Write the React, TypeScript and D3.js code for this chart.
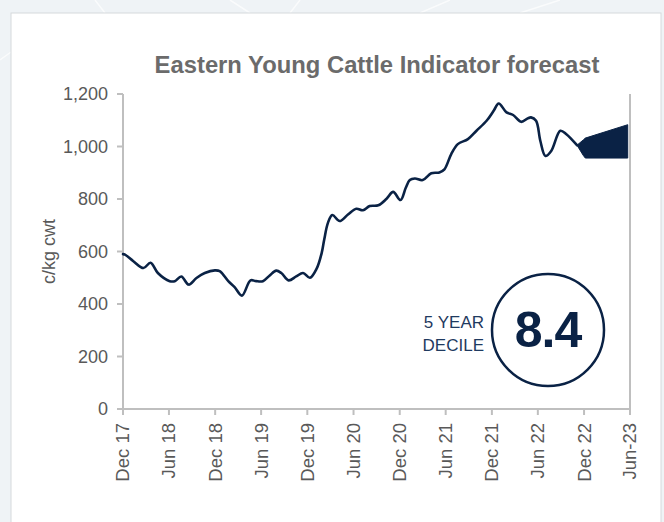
import React from "react";
import * as d3 from "d3";

const lineDates = [
  "2017-12-01","2017-12-09","2018-01-11","2018-02-20","2018-03-20","2018-04-18","2018-06-04","2018-06-24",
  "2018-07-20","2018-08-18","2018-09-18","2018-10-21","2018-11-30","2018-12-19","2019-01-22","2019-02-16",
  "2019-03-17","2019-04-20","2019-05-12","2019-06-08","2019-07-04","2019-07-31","2019-08-20","2019-09-18",
  "2019-10-18","2019-11-14","2019-12-11","2020-01-07","2020-01-27","2020-02-06","2020-02-21","2020-03-09",
  "2020-04-07","2020-05-10","2020-06-12","2020-07-08","2020-08-04","2020-09-07","2020-10-10","2020-11-05",
  "2020-12-04","2020-12-25","2021-01-10","2021-01-30","2021-03-02","2021-04-05","2021-05-07","2021-05-27",
  "2021-06-23","2021-07-19","2021-08-28","2021-10-01","2021-11-10","2021-12-08","2021-12-28","2022-01-28",
  "2022-02-23","2022-03-27","2022-04-22","2022-05-05","2022-05-25","2022-06-11","2022-07-01","2022-07-24",
  "2022-08-29","2022-09-22","2022-11-03"
];
const lineValues = [
  590,588,563,537,557,518,487,487,
  505,474,499,518,528,525,487,464,
  432,490,487,487,508,527,518,490,
  505,518,500,535,595,646,710,739,
  716,741,763,757,773,776,801,827,
  796,843,872,878,872,898,901,913,
  971,1009,1028,1060,1098,1136,1164,1130,
  1120,1094,1107,1111,1098,1021,964,983,
  1060,1047,1005
];

const forecastDates = ["2022-11-03","2022-11-28","2022-12-06","2023-05-23"];
const forecastHigh = [1005, 1025, 1032, 1083];
const forecastLow = [1005, 966, 956, 956];

const xTickDates = ["2017-12-01","2018-06-01","2018-12-01","2019-06-01","2019-12-01","2020-06-01",
  "2020-12-01","2021-06-01","2021-12-01","2022-06-01","2022-12-01","2023-06-01"];
const xTickLabels = ["Dec 17","Jun 18","Dec 18","Jun 19","Dec 19","Jun 20","Dec 20","Jun 21","Dec 21","Jun 22","Dec 22","Jun-23"];
const yTicks = [0, 200, 400, 600, 800, 1000, 1200];

const titleText = "Eastern Young Cattle Indicator forecast";
const yTitle = "c/kg cwt";
const decileLabel1 = "5 YEAR";
const decileLabel2 = "DECILE";
const decileValue = "8.4";

const W = 664, H = 522;
const left = 123, right = 630, top = 94, bottom = 409;
const NAVY = "#0a2245";
const GREY_TEXT = "#595959";
const AXIS = "#bfbfbf";
const FONT = "Arial, 'Liberation Sans', sans-serif";

export default function App() {
  const parse = d3.utcParse("%Y-%m-%d");
  const x = d3.scaleUtc()
    .domain([parse("2017-12-01")!, parse("2023-06-01")!])
    .range([left, right]);
  const y = d3.scaleLinear().domain([0, 1200]).range([bottom, top]);

  const pts = lineDates.map((d, i) => [x(parse(d)!), y(lineValues[i])] as [number, number]);
  const linePath = d3.line().curve(d3.curveCatmullRom.alpha(0.5))(pts) || "";

  const fc = forecastDates.map((d, i) => ({ t: parse(d)!, hi: forecastHigh[i], lo: forecastLow[i] }));
  const areaPath = d3.area<any>()
    .x((d) => x(d.t))
    .y0((d) => y(d.lo))
    .y1((d) => y(d.hi))
    .curve(d3.curveLinear)(fc) || "";

  return (
    <div style={{ position: "fixed", left: 0, top: 0, width: W, height: H }}>
      <svg width={W} height={H} style={{ display: "block" }}>
        <rect x={0} y={0} width={W} height={H} fill="#eff3f6" />
        <g stroke="#ffffff" strokeWidth={1.5} opacity={0.7} fill="none">
          <line x1={95} y1={0} x2={105} y2={13} />
          <line x1={230} y1={0} x2={250} y2={13} />
          <line x1={300} y1={0} x2={290} y2={13} />
          <line x1={420} y1={13} x2={450} y2={0} />
          <line x1={520} y1={13} x2={560} y2={0} />
          <line x1={0} y1={60} x2={11} y2={52} />
        </g>
        <rect x={11} y={13} width={650} height={530} fill="#ffffff" stroke="#d6d9dc" strokeWidth={1} />

        <text x={377} y={73} textAnchor="middle" fontFamily={FONT} fontWeight="bold" fontSize={23.8} fill="#6b6b6b">
          {titleText}
        </text>

        {/* y axis */}
        <line x1={left} y1={top} x2={left} y2={bottom} stroke={AXIS} strokeWidth={2} />
        <line x1={right} y1={top} x2={right} y2={bottom} stroke={AXIS} strokeWidth={2} />
        {yTicks.map((t) => (
          <g key={t}>
            <line x1={left - 6} x2={left} y1={y(t)} y2={y(t)} stroke={AXIS} strokeWidth={2} />
            <text x={108} y={y(t)} dy="0.35em" textAnchor="end" fontFamily={FONT} fontSize={18} fill={GREY_TEXT}>
              {d3.format(",")(t)}
            </text>
          </g>
        ))}
        <text transform={`translate(55,${(top + bottom) / 2}) rotate(-90)`} textAnchor="middle"
          fontFamily={FONT} fontSize={18} fill={GREY_TEXT}>{yTitle}</text>

        {/* x axis */}
        <line x1={left} y1={bottom} x2={right} y2={bottom} stroke={AXIS} strokeWidth={2} />
        {xTickDates.map((d, i) => {
          const xx = x(parse(d)!);
          return (
            <g key={d}>
              <line x1={xx} x2={xx} y1={bottom} y2={bottom + 6} stroke={AXIS} strokeWidth={2} />
              <text transform={`translate(${xx},${bottom + 14}) rotate(-90)`} dy="0.35em" textAnchor="end"
                fontFamily={FONT} fontSize={18.5} fill={GREY_TEXT}>{xTickLabels[i]}</text>
            </g>
          );
        })}

        {/* forecast area and line */}
        <path d={areaPath} fill={NAVY} stroke={NAVY} strokeWidth={1} />
        <path d={linePath} fill="none" stroke={NAVY} strokeWidth={2.6} strokeLinejoin="round" strokeLinecap="round" />

        {/* decile */}
        <circle cx={548} cy={330} r={56} fill="#ffffff" stroke={NAVY} strokeWidth={2.5} />
        <text x={548} y={347} textAnchor="middle" fontFamily={FONT} fontWeight="bold" fontSize={50} fill={NAVY}
          letterSpacing={-1}>{decileValue}</text>
        <text x={484} y={328} textAnchor="end" fontFamily={FONT} fontSize={17} fill="#1f3a60">{decileLabel1}</text>
        <text x={484} y={351} textAnchor="end" fontFamily={FONT} fontSize={17} fill="#1f3a60">{decileLabel2}</text>
      </svg>
    </div>
  );
}
